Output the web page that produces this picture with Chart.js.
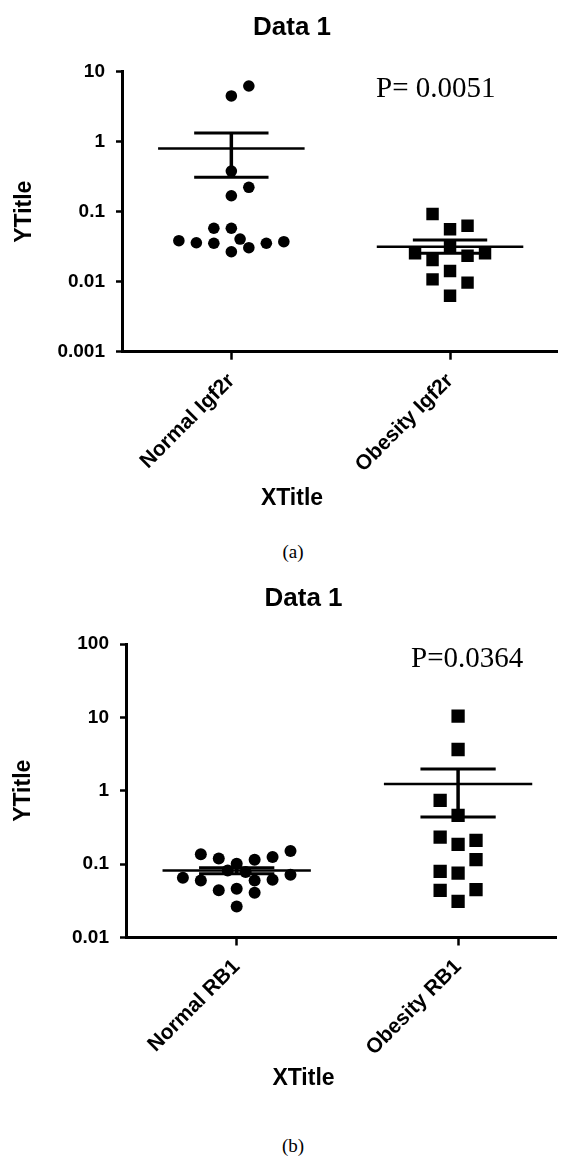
<!DOCTYPE html>
<html>
<head>
<meta charset="utf-8">
<title>Data 1</title>
<script src="https://cdn.jsdelivr.net/npm/chart.js@4.4.1/dist/chart.umd.min.js"></script>
<style>
  html, body { margin: 0; padding: 0; background: #fff; }
  body { width: 566px; height: 1156px; position: relative; overflow: hidden; }
  canvas { position: absolute; left: 0; }
  #chartA { top: 0; }
  #chartB { top: 575px; }
  .caption {
    position: absolute; left: 0; width: 586px; text-align: center;
    font: 19px "Liberation Serif", "Times New Roman", serif; line-height: 20px; color: #000;
  }
</style>
</head>
<body>
<canvas id="chartA" width="566" height="530"></canvas>
<div class="caption" style="top: 542px;">(a)</div>
<canvas id="chartB" width="566" height="540"></canvas>
<div class="caption" style="top: 1136px;">(b)</div>

<script>
// ---- panel (a): Igf2r ----
const categoriesA = ['Normal Igf2r', 'Obesity Igf2r'];
const normalA = [4.5, 6.25, 0.38, 0.223, 0.169, 0.058, 0.058, 0.0385, 0.036, 0.0354, 0.0407, 0.0268, 0.0306, 0.0354, 0.0373];
const normalSlotsA = [0, 1, 0, 1, 0, -1, 0, -3, -2, -1, 0.5, 0, 1, 2, 3];   // beeswarm column of each dot
const obesityA = [0.0927, 0.056, 0.063, 0.0255, 0.0204, 0.0316, 0.0235, 0.0255, 0.0142, 0.0108, 0.0097, 0.0063];
const obesitySlotsA = [-1, 0, 1, -2, -1, 0, 1, 2, 0, -1, 1, 0];
const meanA = [0.80, 0.0316];
const semHighA = [1.33, 0.0394];
const semLowA = [0.31, 0.0255];
const yTicksA = [0.001, 0.01, 0.1, 1, 10];
const pTextA = 'P= 0.0051';

// ---- panel (b): RB1 ----
const categoriesB = ['Normal RB1', 'Obesity RB1'];
const normalB = [0.136, 0.119, 0.101, 0.115, 0.125, 0.151, 0.0653, 0.060, 0.082, 0.078, 0.060, 0.0614, 0.0718, 0.0439, 0.0462, 0.0406, 0.0265];
const normalSlotsB = [-2, -1, 0, 1, 2, 3, -3, -2, -0.5, 0.5, 1, 2, 3, -1, 0, 1, 0];
const obesityB = [10.4, 3.65, 0.741, 0.463, 0.234, 0.186, 0.211, 0.115, 0.0796, 0.0755, 0.0439, 0.0448, 0.031];
const obesitySlotsB = [0, 0, -1, 0, -1, 0, 1, 1, -1, 0, -1, 1, 0];
const meanB = [0.082, 1.24];
const semHighB = [0.089, 1.98];
const semLowB = [0.074, 0.44];
const yTicksB = [0.01, 0.1, 1, 10, 100];
const pTextB = 'P=0.0364';

Chart.defaults.font.family = '"Liberation Sans", Arial, sans-serif';
Chart.defaults.color = '#000';

const MEAN_HALF = 0.335;  // half width of the mean line (x units)
const CAP_HALF = 0.17;    // half width of the SEM caps

// draws the P value text in the upper right
const pValuePlugin = {
    id: 'pValue',
    afterDraw(chart, args, opts) {
        const ctx = chart.ctx;
        ctx.save();
        ctx.font = '29px "Liberation Serif", "Times New Roman", serif';
        ctx.fillStyle = '#000';
        ctx.textBaseline = 'alphabetic';
        ctx.fillText(opts.text, opts.x, opts.y);
        ctx.restore();
    }
};

function segment(points, width) {
    return {
        type: 'line',
        data: points,
        borderColor: '#000',
        borderWidth: width,
        borderCapStyle: 'butt',
        pointRadius: 0,
        fill: false
    };
}

function makeChart(id, o) {
    const datasets = [];
    // mean + SEM lines first so they sit on top of the points
    o.means.forEach((m, c) => {
        datasets.push(segment([{x: c - MEAN_HALF, y: m}, {x: c + MEAN_HALF, y: m}], 2.5));
        datasets.push(segment([{x: c, y: o.semLow[c]}, {x: c, y: o.semHigh[c]}], 3.5));
        datasets.push(segment([{x: c - CAP_HALF, y: o.semHigh[c]}, {x: c + CAP_HALF, y: o.semHigh[c]}], 3));
        datasets.push(segment([{x: c - CAP_HALF, y: o.semLow[c]}, {x: c + CAP_HALF, y: o.semLow[c]}], 3));
    });
    datasets.push({
        type: 'scatter',
        data: o.normal.map((v, i) => ({x: o.normalSlots[i] * o.step, y: v})),
        pointStyle: 'circle',
        pointRadius: o.dotR,
        backgroundColor: '#000',
        borderWidth: 0
    });
    datasets.push({
        type: 'scatter',
        data: o.obesity.map((v, i) => ({x: 1 + o.obesitySlots[i] * o.step, y: v})),
        pointStyle: 'rect',
        pointRadius: o.sqR,
        backgroundColor: '#000',
        borderWidth: 0
    });

    return new Chart(document.getElementById(id), {
        type: 'scatter',
        data: { datasets: datasets },
        options: {
            responsive: false,
            animation: false,
            devicePixelRatio: 1,
            layout: { padding: { left: o.padLeft, right: 0, top: 0, bottom: 0 } },
            plugins: {
                legend: { display: false },
                tooltip: { enabled: false },
                title: {
                    display: true,
                    text: 'Data 1',
                    font: { size: 26, weight: 'bold' },
                    padding: { top: o.titleTop, bottom: o.titleBottom }
                },
                subtitle: {
                    display: true,
                    text: 'XTitle',
                    position: 'bottom',
                    font: { size: 23, weight: 'bold' },
                    padding: { top: o.xTitleTop, bottom: o.xTitleBottom }
                },
                pValue: { text: o.pText, x: o.pX, y: o.pY }
            },
            scales: {
                x: {
                    type: 'linear',
                    min: -0.5,
                    max: o.xMax,
                    afterBuildTicks: s => { s.ticks = o.categories.map((c, i) => ({ value: i })); },
                    afterFit: s => { s.height = 120; },
                    ticks: {
                        autoSkip: false,
                        minRotation: 45,
                        maxRotation: 45,
                        padding: 9,
                        font: { size: 21, weight: 'bold' },
                        callback: v => o.categories[v]
                    },
                    grid: { drawOnChartArea: false, drawTicks: true, tickLength: 8, tickWidth: 2.5, tickColor: '#000' },
                    border: { display: true, color: '#000', width: 3 }
                },
                y: {
                    type: 'logarithmic',
                    min: o.yTicks[0],
                    max: o.yTicks[o.yTicks.length - 1],
                    afterBuildTicks: s => { s.ticks = o.yTicks.map(v => ({ value: v })); },
                    afterFit: s => { s.width = o.yWidth; },
                    ticks: {
                        padding: o.yTickPad,
                        font: { size: 19, weight: 'bold' },
                        callback: v => String(v)
                    },
                    grid: { drawOnChartArea: false, drawTicks: true, tickLength: 6, tickWidth: 2.5, tickColor: '#000' },
                    border: { display: true, color: '#000', width: 3 },
                    title: {
                        display: true,
                        text: 'YTitle',
                        font: { size: 23, weight: 'bold' },
                        padding: { top: o.yTitlePad, bottom: 0 }
                    }
                }
            }
        },
        plugins: [pValuePlugin]
    });
}

document.addEventListener('DOMContentLoaded', function() {
    makeChart('chartA', {
        categories: categoriesA, normal: normalA, normalSlots: normalSlotsA,
        obesity: obesityA, obesitySlots: obesitySlotsA,
        means: meanA, semHigh: semHighA, semLow: semLowA, yTicks: yTicksA,
        pText: pTextA, pX: 376, pY: 97,
        step: 0.08, dotR: 5.8, sqR: 8.8, xMax: 1.49,
        padLeft: 18, yWidth: 104, yTickPad: 11, yTitlePad: -6.8,
        titleTop: 12.4, titleBottom: 28.1, xTitleTop: 13, xTitleBottom: 17.7
    });
    makeChart('chartB', {
        categories: categoriesB, normal: normalB, normalSlots: normalSlotsB,
        obesity: obesityB, obesitySlots: obesitySlotsB,
        means: meanB, semHigh: semHighB, semLow: semLowB, yTicks: yTicksB,
        pText: pTextB, pX: 411, pY: 92,
        step: 0.081, dotR: 6, sqR: 9.4, xMax: 1.445,
        padLeft: 41, yWidth: 85, yTickPad: 11, yTitlePad: -31.3,
        titleTop: 8.4, titleBottom: 29.4, xTitleTop: 7.7, xTitleBottom: 22.2
    });
});
</script>
</body>
</html>
